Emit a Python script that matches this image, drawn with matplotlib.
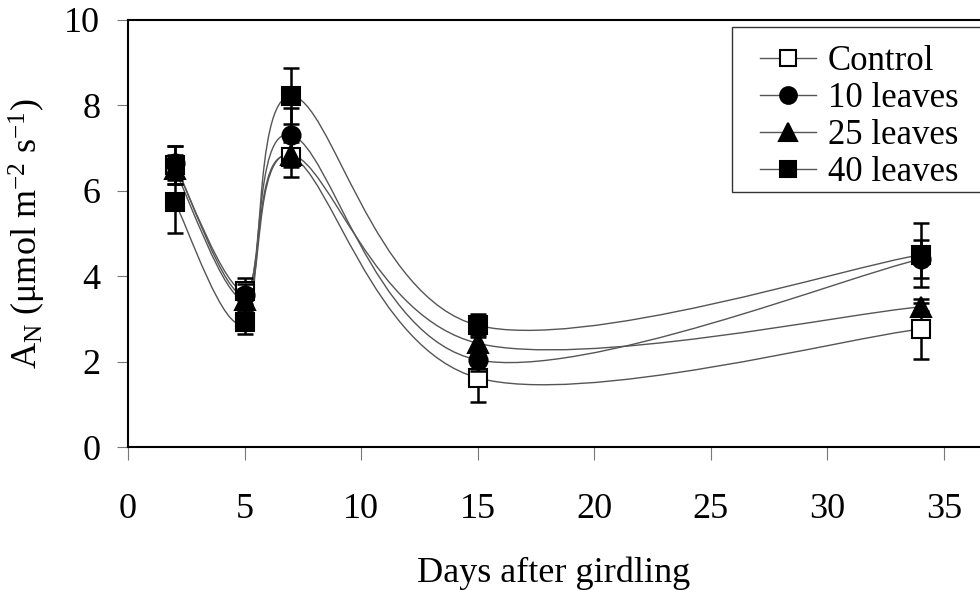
import numpy as np
import matplotlib
matplotlib.use('Agg')
import matplotlib.pyplot as plt
from matplotlib.path import Path
from matplotlib.patches import PathPatch, Rectangle
from matplotlib.lines import Line2D

# Net assimilation after girdling
days = [2, 5, 7, 15, 34]
series_names = ['Control', '10 leaves', '25 leaves', '40 leaves']

control = [6.60, 3.65, 6.80, 1.62, 2.76]
leaves_10 = [6.65, 3.56, 7.31, 2.04, 4.40]
leaves_25 = [6.50, 3.45, 6.85, 2.43, 3.28]
leaves_40 = [5.74, 2.92, 8.22, 2.85, 4.50]

control_err = [0.45, 0.30, 0.48, 0.56, 0.70]
leaves_10_err = [0.40, 0.25, 0.62, 0.25, 0.45]
leaves_25_err = [0.35, 0.25, 0.30, 0.20, 0.10]
leaves_40_err = [0.73, 0.28, 0.65, 0.27, 0.75]

x_ticks = [0, 5, 10, 15, 20, 25, 30, 35]
y_ticks = [0, 2, 4, 6, 8, 10]

plt.rcParams['font.family'] = ['Liberation Serif', 'DejaVu Serif']
plt.rcParams['mathtext.fontset'] = 'custom'
plt.rcParams['mathtext.rm'] = 'Liberation Serif'
plt.rcParams['mathtext.it'] = 'Liberation Serif'


def smooth_path(x, y):
    # Excel-style smoothed line: cubic Bezier through the points
    pts = np.column_stack([x, y]).astype(float)
    n = len(pts)
    verts = [pts[0]]
    codes = [Path.MOVETO]
    for i in range(n - 1):
        p0 = pts[i - 1] if i > 0 else pts[i]
        p1 = pts[i]
        p2 = pts[i + 1]
        p3 = pts[i + 2] if i + 2 < n else pts[i + 1]
        c1 = p1 + (p2 - p0) / 6.0
        c2 = p2 - (p3 - p1) / 6.0
        verts += [c1, c2, p2]
        codes += [Path.CURVE4] * 3
    return Path(verts, codes)


fig = plt.figure(figsize=(9.8, 5.9), dpi=100)
ax = fig.add_axes([128 / 980, 1 - 447 / 590, 1 - 128 / 980, (447 - 20) / 590])

styles = [
    dict(marker='s', mfc='white', ms=13),
    dict(marker='o', mfc='black', ms=13),
    dict(marker='^', mfc='black', ms=14),
    dict(marker='s', mfc='black', ms=13),
]
values = [control, leaves_10, leaves_25, leaves_40]
errors = [control_err, leaves_10_err, leaves_25_err, leaves_40_err]
line_col = '#555555'

for vals in values:
    patch = PathPatch(smooth_path(days, vals), facecolor='none',
                      edgecolor=line_col, lw=1.0, zorder=2)
    ax.add_patch(patch)

handles = []
for i, (vals, errs, st) in enumerate(zip(values, errors, styles)):
    ax.errorbar(days, vals, yerr=errs, fmt='none', ecolor='black',
                elinewidth=1.8, capsize=6, capthick=1.8, zorder=3 + i)
    ax.plot(days, vals, linestyle='none', marker=st['marker'],
            markerfacecolor=st['mfc'], markeredgecolor='black',
            markeredgewidth=1.5, markersize=st['ms'], zorder=3.5 + i)
    handles.append(Line2D([0], [0], color=line_col, lw=1.0,
                          marker=st['marker'], markerfacecolor=st['mfc'],
                          markeredgecolor='black', markeredgewidth=1.5,
                          markersize=st['ms'] - 1))

ax.set_xlim(0, (980 - 128) / 23.31)
ax.set_ylim(0, 10)
ax.set_xticks(x_ticks)
ax.set_yticks(y_ticks)
ax.tick_params(axis='x', direction='out', length=9, width=0.8,
               color='#777777', pad=24, labelsize=26)
ax.tick_params(axis='y', direction='out', length=8, width=0.8,
               color='#777777', pad=12, labelsize=26)

for side in ['left', 'bottom', 'top']:
    ax.spines[side].set_linewidth(1.5)
ax.spines['right'].set_visible(False)

ax.set_xlabel('Days after girdling', fontsize=26, labelpad=22)
ax.set_ylabel(r'A$_\mathregular{N}$ ($\mathregular{\mu}$mol m$^\mathregular{-2}$ s$^\mathregular{-1}$)',
              fontsize=26, labelpad=12)

# legend box runs off the right edge of the figure, as in the original
box = Rectangle((732 / 980, 1 - 192 / 590), 280 / 980, 165 / 590,
                transform=fig.transFigure, facecolor='white',
                edgecolor='#333333', lw=1.0, zorder=10)
fig.add_artist(box)
leg = fig.legend(handles, series_names, loc='upper left',
                 bbox_to_anchor=(753 / 980, 1 - 38 / 590),
                 fontsize=25, frameon=False,
                 labelspacing=0.12, handlelength=1.6, handletextpad=0.35,
                 borderpad=0.2, borderaxespad=0.0)
leg.set_zorder(11)

fig.savefig('out.png', dpi=100)
